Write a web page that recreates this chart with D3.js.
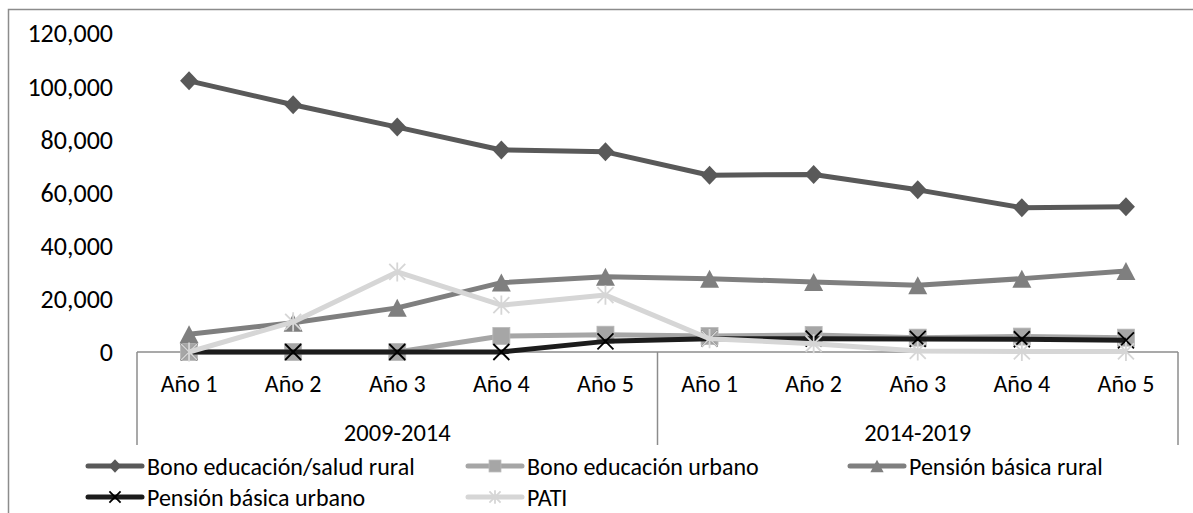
<!DOCTYPE html>
<html>
<head>
<meta charset="utf-8">
<script src="https://cdn.jsdelivr.net/npm/d3@7"></script>
<style>
  body { margin: 0; background: #fff; }
  svg { display: block; font-family: Carlito, Calibri, Lato, sans-serif; }
</style>
</head>
<body>
<svg id="chart" width="1193" height="513"></svg>
<script>
// categories
const years = ["Año 1", "Año 2", "Año 3", "Año 4", "Año 5"];
const periods = ["2009-2014", "2014-2019"];
const yTicks = [0, 20000, 40000, 60000, 80000, 100000, 120000];

// series values, 5 years per period
const bonoRural     = [102000, 93000, 84600, 76000, 75300, 66500, 66800, 61000, 54300, 54600];
const bonoUrbano    = [0, 0, 0, 6000, 6500, 6000, 6400, 5400, 5800, 5400];
const pensionRural  = [6700, 11000, 16600, 26100, 28300, 27600, 26300, 25100, 27600, 30500];
const pensionUrbano = [0, 0, 0, 0, 4000, 5000, 5000, 4900, 4800, 4400];
const pati          = [0, 11300, 30100, 17600, 21400, 5000, 3100, 400, 200, 200];

const seriesNames = ["Bono educación/salud rural", "Bono educación urbano", "Pensión básica rural",
                     "Pensión básica urbano", "PATI"];

const series = [
  { name: seriesNames[0], values: bonoRural,     color: "#595959", marker: "diamond" },
  { name: seriesNames[1], values: bonoUrbano,    color: "#a6a6a6", marker: "square" },
  { name: seriesNames[2], values: pensionRural,  color: "#7f7f7f", marker: "triangle" },
  { name: seriesNames[3], values: pensionUrbano, color: "#1c1c1c", marker: "x" },
  { name: seriesNames[4], values: pati,          color: "#d6d6d6", marker: "star" }
];

const svg = d3.select("#chart");

// outer chart border (right and bottom edges fall outside the picture)
svg.append("rect")
  .attr("x", 8.5).attr("y", 9.5)
  .attr("width", 1200).attr("height", 520)
  .attr("fill", "none")
  .attr("stroke", "#8c8c8c")
  .attr("stroke-width", 1.5);

const plot = { left: 137, right: 1178, top: 33, bottom: 352 };

// one key per (period, year)
const keys = [];
periods.forEach((p, pi) => years.forEach((y, yi) => keys.push(pi * years.length + yi)));

const x = d3.scaleBand()
  .domain(keys)
  .range([plot.left, plot.right]);

const y = d3.scaleLinear()
  .domain([0, 120000])
  .range([plot.bottom, plot.top]);

// y tick labels (no axis line in the original)
svg.append("g")
  .selectAll("text")
  .data(yTicks)
  .join("text")
  .attr("x", 113)
  .attr("y", d => y(d))
  .attr("dy", "0.36em")
  .attr("text-anchor", "end")
  .attr("font-size", 26)
  .attr("fill", "#000")
  .text(d => d3.format(",")(d));

// category axis line
const axisColor = "#8c8c8c";
svg.append("line")
  .attr("x1", plot.left).attr("x2", plot.right)
  .attr("y1", plot.bottom).attr("y2", plot.bottom)
  .attr("stroke", axisColor).attr("stroke-width", 1.5);

// group separators
const groupBottom = 445;
const sepX = [0, years.length, keys.length].map(i => i < keys.length ? x(i) : x.range()[1]);
svg.append("g")
  .selectAll("line")
  .data(sepX)
  .join("line")
  .attr("x1", d => d).attr("x2", d => d)
  .attr("y1", plot.bottom).attr("y2", groupBottom)
  .attr("stroke", axisColor).attr("stroke-width", 1.5);

// year labels
svg.append("g")
  .selectAll("text")
  .data(keys)
  .join("text")
  .attr("x", d => x(d) + x.bandwidth() / 2)
  .attr("y", 383)
  .attr("dy", "0.36em")
  .attr("text-anchor", "middle")
  .attr("font-size", 24)
  .attr("fill", "#000")
  .text(d => years[d % years.length]);

// period labels
svg.append("g")
  .selectAll("text")
  .data(periods)
  .join("text")
  .attr("x", (d, i) => (sepX[i] + sepX[i + 1]) / 2)
  .attr("y", 432)
  .attr("dy", "0.36em")
  .attr("text-anchor", "middle")
  .attr("font-size", 24.5)
  .attr("fill", "#000")
  .text(d => d);

// marker drawing
function drawMarker(g, type, color, k) {
  if (type === "diamond") {
    const h = 9.5 * k, w = 9 * k;
    g.append("path")
      .attr("d", `M0,${-h}L${w},0L0,${h}L${-w},0Z`)
      .attr("fill", color);
  } else if (type === "square") {
    const s = 8.5 * k;
    g.append("rect")
      .attr("x", -s).attr("y", -s)
      .attr("width", 2 * s).attr("height", 2 * s)
      .attr("fill", color)
      .attr("stroke", "#b8b8b8").attr("stroke-width", 0.8);
  } else if (type === "triangle") {
    const w = 9.5 * k, h = 9 * k;
    g.append("path")
      .attr("d", `M0,${-h}L${w},${h}L${-w},${h}Z`)
      .attr("fill", color);
  } else if (type === "x") {
    const s = 8 * k;
    g.append("path")
      .attr("d", `M${-s},${-s}L${s},${s}M${-s},${s}L${s},${-s}`)
      .attr("stroke", "#000").attr("stroke-width", 1.8).attr("fill", "none");
  } else if (type === "star") {
    const s = 8 * k;
    g.append("path")
      .attr("d", `M${-s},${-s}L${s},${s}M${-s},${s}L${s},${-s}M0,${-s * 1.2}L0,${s * 1.2}`)
      .attr("stroke", color).attr("stroke-width", 1.8).attr("fill", "none");
  }
}

const line = d3.line()
  .x((d, i) => x(i) + x.bandwidth() / 2)
  .y(d => y(d));

// series, each drawn with its markers in order
series.forEach(s => {
  const g = svg.append("g");
  g.append("path")
    .datum(s.values)
    .attr("d", line)
    .attr("fill", "none")
    .attr("stroke", s.color)
    .attr("stroke-width", 5)
    .attr("stroke-linejoin", "round");
  s.values.forEach((v, i) => {
    const m = g.append("g")
      .attr("transform", `translate(${x(i) + x.bandwidth() / 2},${y(v)})`);
    drawMarker(m, s.marker, s.color, 1);
  });
});

// legend
const legendPos = [
  { x: 88, y: 466 }, { x: 468, y: 466 }, { x: 850, y: 466 },
  { x: 88, y: 497 }, { x: 468, y: 497 }
];
series.forEach((s, i) => {
  const p = legendPos[i];
  const g = svg.append("g").attr("transform", `translate(${p.x},${p.y})`);
  g.append("line")
    .attr("x1", 0).attr("x2", 54)
    .attr("stroke", s.color).attr("stroke-width", 5)
    .attr("stroke-linecap", "round");
  drawMarker(g.append("g").attr("transform", "translate(27,0)"), s.marker, s.color, 0.7);
  g.append("text")
    .attr("x", 59)
    .attr("dy", "0.36em")
    .attr("font-size", 24)
    .attr("fill", "#000")
    .text(s.name);
});
</script>
</body>
</html>
